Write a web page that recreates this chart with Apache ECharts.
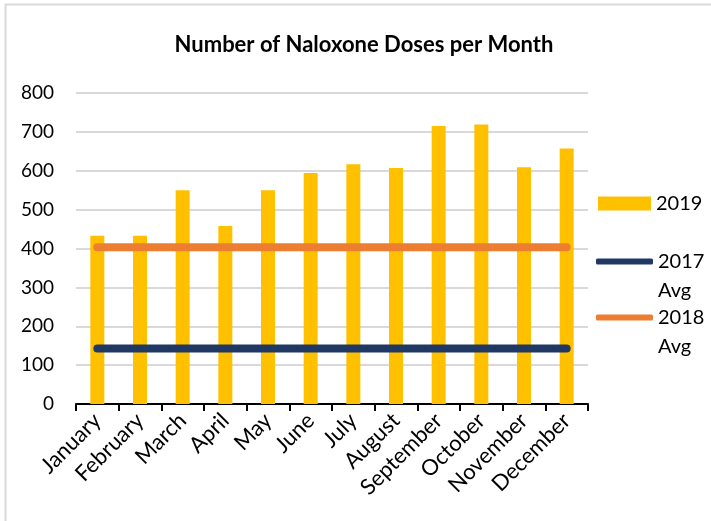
<!DOCTYPE html>
<html>
<head>
<meta charset="utf-8">
<script src="https://cdn.jsdelivr.net/npm/echarts@6/dist/echarts.min.js"></script>
<style>
  html, body { margin: 0; padding: 0; background: #fff; }
  #chart { width: 711px; height: 521px; }
</style>
</head>
<body>
<div id="chart"></div>
<script>
// data
var months = ['January', 'February', 'March', 'April', 'May', 'June', 'July',
  'August', 'September', 'October', 'November', 'December'];
var doses2019 = [433, 433, 550, 458, 550, 594, 617, 607, 715, 719, 609, 657];
var avg2017 = 143;
var avg2018 = 403;
var yTicks = [0, 100, 200, 300, 400, 500, 600, 700, 800];

var font = 'Lato, "Open Sans", sans-serif';

var chart = echarts.init(document.getElementById('chart'));

// avg legends: name wraps onto two lines, icon sits beside the first line
function avgLegend(name, color, top) {
  return {
    data: [{ name: name, icon: 'roundRect', itemStyle: { color: color } }],
    orient: 'vertical',
    left: 596,
    top: top,
    padding: 0,
    itemWidth: 57,
    itemHeight: 6,
    formatter: function (n) { return ' \n' + n.replace(' ', '\n'); },
    textStyle: { fontFamily: font, fontSize: 20, color: '#000', lineHeight: 29 },
    selectedMode: false
  };
}

var option = {
  backgroundColor: '#fff',
  animation: false,
  title: {
    text: 'Number of Naloxone Doses per Month',
    left: 359,
    textAlign: 'center',
    top: 29,
    textStyle: { fontFamily: font, fontSize: 22, fontWeight: 'bold', color: '#000' }
  },
  graphic: [{
    type: 'rect',
    shape: { x: 5.5, y: 4.5, width: 720, height: 540 },
    style: { fill: 'none', stroke: '#d9d9d9', lineWidth: 2 },
    silent: true
  }],
  legend: [
    {
      data: ['2019'],
      left: 598,
      top: 189,
      padding: 0,
      itemWidth: 53,
      itemHeight: 14,
      icon: 'rect',
      textStyle: { fontFamily: font, fontSize: 20, color: '#000', lineHeight: 29 },
      selectedMode: false
    },
    avgLegend('2017 Avg', '#203864', 218),
    avgLegend('2018 Avg', '#ED7D31', 274)
  ],
  grid: { left: 76, right: 123, top: 93, bottom: 117, containLabel: false },
  xAxis: {
    type: 'category',
    data: months,
    boundaryGap: true,
    axisLine: { lineStyle: { color: '#000', width: 2 } },
    axisTick: { show: true, length: 7, lineStyle: { color: '#000', width: 2 } },
    axisLabel: { rotate: 45, interval: 0, fontFamily: font, fontSize: 22, color: '#000', margin: 13 }
  },
  yAxis: {
    type: 'value',
    min: yTicks[0],
    max: yTicks[yTicks.length - 1],
    interval: 100,
    axisLine: { show: false },
    axisTick: { show: false },
    axisLabel: { fontFamily: font, fontSize: 19, color: '#000', margin: 22 },
    splitLine: { lineStyle: { color: '#d9d9d9', width: 2 } }
  },
  series: [
    {
      name: '2019',
      type: 'bar',
      data: doses2019,
      barWidth: 14,
      itemStyle: { color: '#FFC000' },
      z: 2
    },
    {
      name: '2017 Avg',
      type: 'line',
      data: months.map(function () { return avg2017; }),
      symbol: 'none',
      lineStyle: { color: '#203864', width: 8, cap: 'round' },
      itemStyle: { color: '#203864' },
      z: 3
    },
    {
      name: '2018 Avg',
      type: 'line',
      data: months.map(function () { return avg2018; }),
      symbol: 'none',
      lineStyle: { color: '#ED7D31', width: 8, cap: 'round' },
      itemStyle: { color: '#ED7D31' },
      z: 3
    }
  ]
};

chart.setOption(option);
</script>
</body>
</html>
